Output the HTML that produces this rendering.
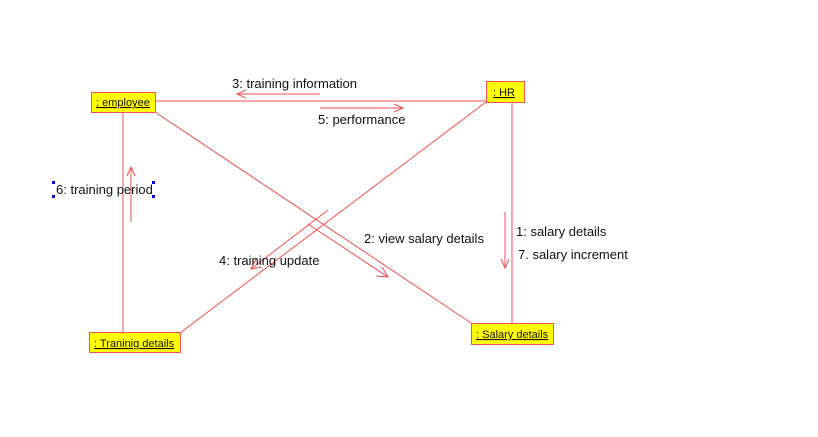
<!DOCTYPE html>
<html><head><style>
body{margin:0;background:#fff;width:818px;height:432px;overflow:hidden}
svg text{font-family:"Liberation Sans",sans-serif;font-size:13px;fill:#111}
</style></head><body>
<svg width="818" height="432" viewBox="0 0 818 432" xmlns="http://www.w3.org/2000/svg">
<g stroke="#f05050" stroke-width="1" fill="none">
<line x1="155" y1="101" x2="486" y2="101"/>
<line x1="123" y1="112" x2="123" y2="333"/>
<line x1="155" y1="112" x2="471" y2="323"/>
<line x1="486" y1="102" x2="180" y2="333"/>
<line x1="512" y1="102" x2="512" y2="323"/>
<line x1="320" y1="94" x2="237" y2="94"/><polyline points="246,90 237,94 246,98"/>
<line x1="320" y1="108" x2="403" y2="108"/><polyline points="394,104 403,108 394,112"/>
<line x1="131" y1="222" x2="131" y2="167"/><polyline points="127,176 131,167 135,176"/>
<line x1="505" y1="212" x2="505" y2="268"/><polyline points="501,259 505,268 509,259"/>
<line x1="308" y1="224" x2="388" y2="277"/><polyline points="376,276 388,277 382,267"/>
<line x1="328" y1="210" x2="251" y2="269"/><polyline points="256,259 251,269 262,267"/>
</g>
<g fill="#ffff00" stroke="#f05050">
<rect x="91.5" y="92.5" width="64" height="20"/>
<rect x="486.5" y="81.5" width="38" height="21"/>
<rect x="89.5" y="332.5" width="91" height="20"/>
<rect x="471.5" y="323.5" width="82" height="21"/>
</g>
<text x="96" y="106" style="font-size:11px;text-decoration:underline">: employee</text>
<text x="493" y="96" style="font-size:11px;text-decoration:underline">: HR</text>
<text x="94" y="347" style="font-size:11px;text-decoration:underline">: Traninig details</text>
<text x="476" y="338" style="font-size:11px;text-decoration:underline">: Salary details</text>
<text x="232" y="88">3: training information</text>
<text x="318" y="124">5: performance</text>
<text x="56" y="194">6: training period</text>
<text x="364" y="243">2: view salary details</text>
<text x="219" y="265">4: training update</text>
<text x="516" y="236">1: salary details</text>
<text x="518" y="259">7. salary increment</text>
<g fill="#0000e0">
<rect x="52" y="181" width="3" height="3"/><rect x="52" y="195" width="3" height="3"/>
<rect x="152" y="181" width="3" height="3"/><rect x="152" y="195" width="3" height="3"/>
</g>
</svg>
</body></html>
